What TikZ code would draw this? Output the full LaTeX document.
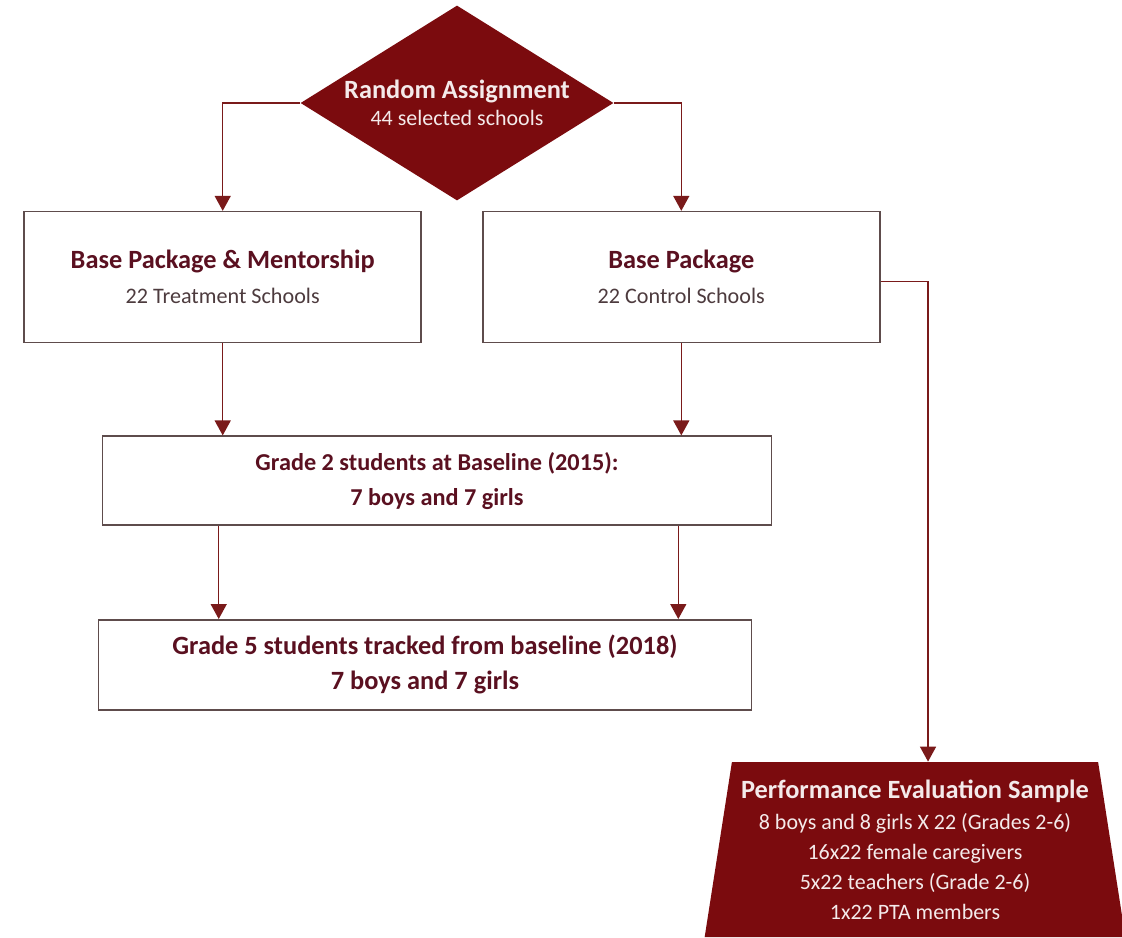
\documentclass[tikz,border=0pt]{standalone}
\usepackage{fontspec}
\setmainfont{Carlito}
\usetikzlibrary{arrows.meta,positioning,shapes.geometric}
\definecolor{maroon}{HTML}{7B0B0E}
\definecolor{boxtext}{HTML}{5A1020}
\definecolor{subgray}{HTML}{4D3B3E}
\definecolor{edgegray}{HTML}{5E4C4C}
\definecolor{arrowred}{HTML}{7A1A1A}
\definecolor{pale}{HTML}{F4EAEA}
\newcommand{\boxhead}{\fontsize{15}{19.8}\selectfont\bfseries\color{boxtext}}

\begin{document}
\begin{tikzpicture}[
  box/.style={draw=edgegray, line width=0.9pt, fill=white, minimum width=7.94cm, minimum height=2.62cm, align=center, text=subgray, font=\fontsize{12.6}{19.8}\selectfont},
  wide/.style={draw=edgegray, line width=0.9pt, fill=white, minimum height=1.78cm, align=center, text=boxtext, font=\fontsize{13.8}{19.8}\selectfont\bfseries},
  decision/.style={diamond, fill=maroon, text=pale, inner sep=0pt, aspect=1.6, minimum width=6.26cm, minimum height=3.9cm, align=center, font=\fontsize{12.5}{15.3}\selectfont},
  sample/.style={trapezium, trapezium left angle=80, trapezium right angle=80, trapezium stretches=true, fill=maroon, text=pale, minimum width=8.44cm, minimum height=3.5cm, align=center, font=\fontsize{12.5}{17}\selectfont},
  arrow/.style={line width=0.85pt, arrowred, -{Triangle[length=0.3cm, width=0.32cm]}}
]
\useasboundingbox (0,0) rectangle (22.44,-18.74);

\node[decision] (rand) at (9.14,-2.06) {{\fontsize{15}{15.3}\selectfont\bfseries Random Assignment}\\44 selected schools};
\node[box, below left=0.2cm and 0.7cm of rand.south] (treat) {{\boxhead Base Package \& Mentorship}\\22 Treatment Schools};
\node[box, below right=0.2cm and 0.5cm of rand.south] (ctrl) {{\boxhead Base Package}\\22 Control Schools};
\node[wide, minimum width=13.38cm, below=1.84cm of treat.south east, xshift=0.3cm] (base) {Grade 2 students at Baseline (2015):\\7 boys and 7 girls};
\node[wide, minimum width=13.06cm, minimum height=1.8cm, font=\fontsize{15}{19.8}\selectfont\bfseries, below=1.86cm of base, xshift=-0.24cm] (track) {Grade 5 students tracked from baseline (2018)\\7 boys and 7 girls};
\node[sample] (perf) at (18.3,-16.99) {{\fontsize{15}{18}\selectfont\bfseries Performance Evaluation Sample}\\[1pt]8 boys and 8 girls X 22 (Grades 2-6)\\16x22 female caregivers\\5x22 teachers (Grade 2-6)\\1x22 PTA members};

\draw[arrow] (rand.west) -| (treat.north);
\draw[arrow] (rand.east) -| (ctrl.north);
\draw[arrow] (treat.south) -- (treat.south |- base.north);
\draw[arrow] (ctrl.south) -- (ctrl.south |- base.north);
\draw[arrow] ([xshift=-0.08cm]treat.south |- base.south) -- ([xshift=-0.08cm]treat.south |- track.north);
\draw[arrow] ([xshift=-0.06cm]ctrl.south |- base.south) -- ([xshift=-0.06cm]ctrl.south |- track.north);
\draw[arrow] ([yshift=-0.09cm]ctrl.east) -| ([xshift=0.26cm]perf.north);

\end{tikzpicture}
\end{document}
